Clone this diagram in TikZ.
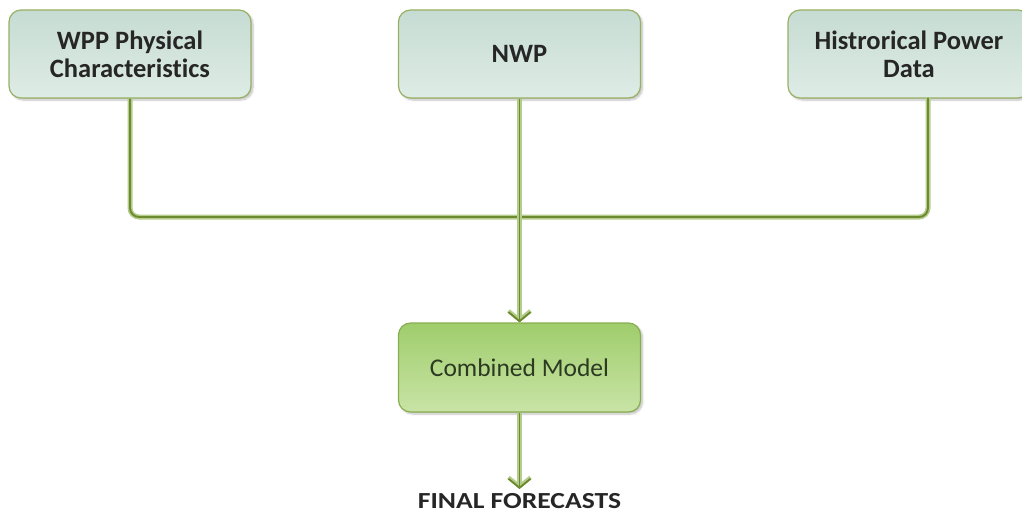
\documentclass[tikz,border=0pt]{standalone}
\usepackage{fontspec}
\setmainfont{Carlito}[Ligatures=NoCommon]
\usetikzlibrary{arrows.meta,shadows.blur}
\definecolor{srcTop}{HTML}{C6DCD3}
\definecolor{srcBot}{HTML}{DEECE6}
\definecolor{srcEdge}{HTML}{98B063}
\definecolor{mdlTop}{HTML}{9FCD6C}
\definecolor{mdlBot}{HTML}{C9E4A6}
\definecolor{mdlEdge}{HTML}{88AE50}
\definecolor{wireDark}{HTML}{6D8A2F}
\definecolor{wireLight}{HTML}{B5CD8C}
\definecolor{mdlText}{HTML}{2C3A22}
\tikzset{
  sourcebox/.style={draw=srcEdge, line width=1.2pt, rounded corners=12pt,
    top color=srcTop, bottom color=srcBot, minimum width=242pt, minimum height=88pt,
    align=center, font=\fontsize{26.5}{28}\selectfont\bfseries, text=black!85, inner sep=0pt,
    blur shadow={shadow xshift=2pt, shadow yshift=-2pt, shadow blur steps=6, shadow opacity=25}},
  modelbox/.style={draw=mdlEdge, line width=1.2pt, rounded corners=12pt,
    top color=mdlTop, bottom color=mdlBot, minimum width=242pt, minimum height=89pt,
    align=center, font=\fontsize{25.5}{30}\selectfont, text=mdlText, inner sep=0pt,
    blur shadow={shadow xshift=2pt, shadow yshift=-2pt, shadow blur steps=6, shadow opacity=25}},
  wireout/.style={draw=wireLight, line width=5pt, rounded corners=9pt},
  wirein/.style={draw=wireDark, line width=1.9pt, rounded corners=9pt},
  tipline/.style={draw=wireDark, line width=1.9pt,
    -{Straight Barb[length=9pt,width=22pt,line width=1.9pt]}},
  tipglow/.style={draw=wireLight, line width=5pt,
    -{Straight Barb[length=9pt,width=22pt,line width=4pt]}},
  resultlabel/.style={font=\fontsize{23}{26}\selectfont\bfseries, text=black!85, inner sep=0pt}
}
\begin{document}
\begin{tikzpicture}[x=1pt,y=-1pt]
\useasboundingbox (0,0) rectangle (1022,516);

% input sources
\node[sourcebox] (phys) at (130,54) {WPP Physical\\Characteristics};
\node[sourcebox] (nwp)  at (519.5,54) {NWP};
\node[sourcebox] (hist) at (909,54) {Histrorical Power\\Data};
\coordinate (histport) at (928,98);
\coordinate (bus) at (519.5,217);

% combined model and output
\node[modelbox] (model) at (519.5,367.5) {Combined Model};
\node[resultlabel] (final) at (519.5,501) {\scalebox{1.2}[1]{FINAL FORECASTS}};
\coordinate (finaltip) at (519.5,489);

% collecting bus from the outer sources
\foreach \s in {wireout,wirein}{
  \draw[\s] (phys.south) -- (phys.south |- bus) -- (histport |- bus) -- (histport);
}
% NWP straight down into the model
\draw[tipglow] (nwp.south) -- (model.north);
\draw[tipline] (nwp.south) -- (model.north);
% model to final forecasts
\draw[tipglow] (model.south) -- (finaltip);
\draw[tipline] (model.south) -- (finaltip);
\end{tikzpicture}
\end{document}
